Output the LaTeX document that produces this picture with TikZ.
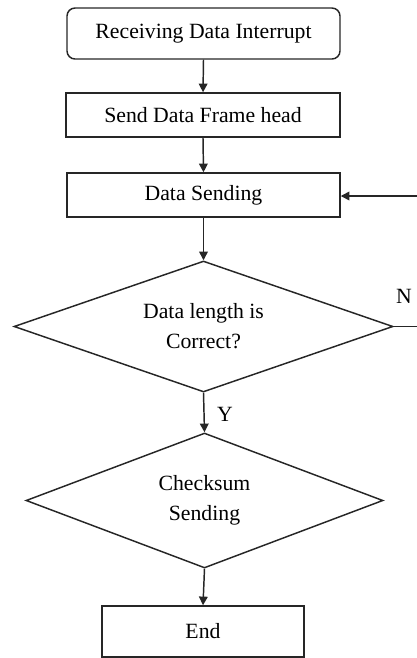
\documentclass[tikz,border=0pt]{standalone}
\usepackage{fontspec}
\setmainfont{Liberation Serif}
\usetikzlibrary{shapes.geometric,arrows.meta}

\tikzset{
  flowline/.style={line width=1.1pt, draw=black!85},
  flowarrow/.style={flowline, -{Triangle[length=6.5pt,width=6.5pt]}},
  procbox/.style={draw=black!85, line width=1.1pt, rectangle, inner sep=0pt,
    font=\fontsize{16.3}{19}\selectfont},
  startbox/.style={procbox, rounded corners=6pt},
  decision/.style={draw=black!85, line width=1.1pt, diamond, inner sep=0pt,
    align=center, font=\fontsize{16.3}{22.5}\selectfont},
  branchlabel/.style={font=\fontsize{16.3}{19}\selectfont, inner sep=0pt}
}

\begin{document}
\begin{tikzpicture}[x=0.75pt,y=-0.75pt]
  \useasboundingbox (0,0) rectangle (417,658);

  \node[startbox, minimum width=273*0.75pt, minimum height=51*0.75pt] (recv) at (203.5,33.5) {Receiving Data Interrupt};
  \node[procbox, minimum width=274*0.75pt, minimum height=44*0.75pt] (head) at (203,115) {Send Data Frame head};
  \node[procbox, minimum width=273*0.75pt, minimum height=44*0.75pt] (send) at (203.5,195) {Data Sending};
  \node[decision, aspect=2.89, minimum width=379*0.75pt, minimum height=131*0.75pt] (check) at (203.5,326.5) {Data length is\\Correct?};
  \node[decision, aspect=2.64, minimum width=357*0.75pt, minimum height=135*0.75pt] (csum) at (204.5,500.5) {Checksum\\Sending};
  \node[procbox, minimum width=202*0.75pt, minimum height=51*0.75pt] (finish) at (203,631.5) {End};

  % main flow
  \draw[flowarrow] (recv.south) -- (head.north);
  \draw[flowarrow] (head.south) -- (send.north);
  \draw[flowarrow] (send.south) -- (check.north);
  \draw[flowarrow] (check.south) -- (csum.north);
  \draw[flowarrow] (csum.south) -- (finish.north);

  % retry loop running past the right edge
  \coordinate (loopout) at (430,326.5);
  \coordinate (loopin) at (430,196);
  \draw[flowarrow] (check.east) -- (loopout) -- (loopin) -- (send.east |- loopin);

  % branch labels
  \node[branchlabel] (nlabel) at (404,296) {N};
  \node[branchlabel] (ylabel) at (225,414) {Y};
\end{tikzpicture}
\end{document}
